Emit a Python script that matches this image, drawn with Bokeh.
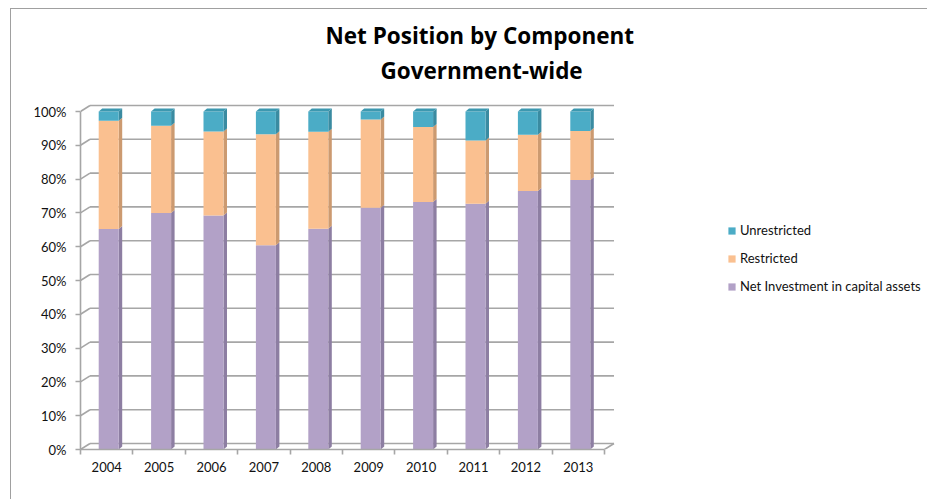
import numpy as np
from bokeh.plotting import figure
from bokeh.models import Range1d, FixedTicker, Title, Legend, LegendItem
from bokeh.embed import file_html
from bokeh.resources import INLINE

# ---------------- data ----------------
years = ["2004", "2005", "2006", "2007", "2008", "2009", "2010", "2011", "2012", "2013"]
net_investment = [65.2, 70.0, 69.2, 60.4, 65.3, 71.5, 73.2, 72.7, 76.5, 79.7]
restricted = [32.1, 25.8, 24.9, 32.9, 28.7, 26.1, 22.2, 18.7, 16.6, 14.5]
unrestricted = [2.7, 4.2, 5.9, 6.7, 6.0, 2.4, 4.6, 8.6, 6.9, 5.8]
series_labels = ["Net Investment in capital assets", "Restricted", "Unrestricted"]
y_ticks = [0, 10, 20, 30, 40, 50, 60, 70, 80, 90, 100]
y_tick_labels = ["0%", "10%", "20%", "30%", "40%", "50%", "60%", "70%", "80%", "90%", "100%"]
title_line1 = "Net Position by Component"
title_line2 = "Government-wide"

# ---------------- styling ----------------
front_colors = ["#B2A1C7", "#FAC090", "#4BACC6"]
side_colors = ["#8D7EA2", "#CC9A70", "#3A8BA1"]
cap_color = "#3C98B0"
grid_color = "#A6A6A6"
FONT = "Lato"
TITLE_FONT = "Open Sans"

W, H = 917, 491
MB_LEFT, MB_TOP, MB_RIGHT = 69, 94, 0
FRAME_H = 346
MB_BOTTOM = H - MB_TOP - FRAME_H
FRAME_W = W - MB_LEFT - MB_RIGHT

PX_X = 52.4      # pixels per category slot
PX_Y = 3.38      # pixels per percent
x_start = -0.5
x_end = x_start + FRAME_W / PX_X
y_end = FRAME_H / PX_Y

p = figure(width=W, height=H,
           x_range=Range1d(x_start, x_end), y_range=Range1d(0, y_end),
           output_backend="svg", toolbar_location=None,
           min_border_left=MB_LEFT, min_border_right=MB_RIGHT,
           min_border_top=MB_TOP, min_border_bottom=MB_BOTTOM,
           outline_line_color=None, background_fill_color="white", border_fill_color="white")
p.styles = {"border-top": "1px solid #A0A0A0", "border-left": "1px solid #A0A0A0",
            "margin-left": "10px", "margin-top": "8px"}
p.xgrid.visible = False
p.ygrid.visible = False

n = len(years)
xs = np.arange(n, dtype=float)

# 3D wall depth
dx = 9.5 / PX_X
dy = 6.0 / PX_Y

gy = np.array(y_ticks, dtype=float)
p.segment(x0=np.full(len(gy), x_start), y0=gy, x1=np.full(len(gy), x_start + dx), y1=gy + dy,
          line_color=grid_color, line_width=1.6)
p.segment(x0=np.full(len(gy), x_start + dx), y0=gy + dy, x1=np.full(len(gy), n - 0.5 + dx), y1=gy + dy,
          line_color=grid_color, line_width=1.6)
p.segment(x0=[n - 0.5], y0=[0], x1=[n - 0.5 + dx], y1=[dy], line_color=grid_color, line_width=1.6)

# bars
bw = 20.0 / PX_X
boff = 2.0 / PX_X
sw = 3.5 / PX_X
sdy = 3.0 / PX_Y

series = [net_investment, restricted, unrestricted]
bottom = np.zeros(n)
renderers = []
for vals, fc, sc in zip(series, front_colors, side_colors):
    v = np.array(vals, dtype=float)
    top = bottom + v
    xr = xs + boff + bw / 2
    side_x = [[a, a + sw, a + sw, a] for a in xr]
    side_y = [[b, b + sdy, t + sdy, t] for b, t in zip(bottom, top)]
    p.patches(xs=side_x, ys=side_y, fill_color=sc, line_color=None)
    r = p.vbar(x=xs + boff, bottom=bottom, top=top, width=bw, fill_color=fc, line_color=None)
    renderers.append(r)
    bottom = top

xl = xs + boff - bw / 2
cap_x = [[a, a + bw, a + bw + sw, a + sw] for a in xl]
cap_y = [[t, t, t + sdy, t + sdy] for t in bottom]
p.patches(xs=cap_x, ys=cap_y, fill_color=cap_color, line_color=None)

# axes
p.yaxis.ticker = FixedTicker(ticks=y_ticks, minor_ticks=[])
p.yaxis.major_label_overrides = {t: l for t, l in zip(y_ticks, y_tick_labels)}
p.yaxis.bounds = (0, 100)
p.yaxis.axis_line_color = grid_color
p.yaxis.axis_line_width = 1.6
p.yaxis.major_tick_line_color = grid_color
p.yaxis.major_tick_line_width = 1.6
p.yaxis.major_tick_out = 5
p.yaxis.major_tick_in = 0
p.yaxis.major_label_standoff = 9
p.yaxis.major_label_text_font = FONT
p.yaxis.major_label_text_font_size = "13px"
p.yaxis.major_label_text_color = "#111111"

p.xaxis.ticker = FixedTicker(ticks=list(xs), minor_ticks=list(np.arange(n + 1) - 0.5))
p.xaxis.major_label_overrides = {i: y for i, y in enumerate(years)}
p.xaxis.bounds = (-0.5, n - 0.5)
p.xaxis.axis_line_color = grid_color
p.xaxis.axis_line_width = 1.6
p.xaxis.major_tick_line_color = None
p.xaxis.major_tick_out = 0
p.xaxis.major_tick_in = 0
p.xaxis.minor_tick_line_color = grid_color
p.xaxis.minor_tick_line_width = 1.6
p.xaxis.minor_tick_out = 5
p.xaxis.minor_tick_in = 0
p.xaxis.major_label_standoff = 7
p.xaxis.major_label_text_font = FONT
p.xaxis.major_label_text_font_size = "13px"
p.xaxis.major_label_text_color = "#111111"

# titles (closest to frame first)
t2 = Title(text=title_line2, align="left", offset=300, text_font=TITLE_FONT, text_font_size="22.5px",
           text_font_style="bold", text_color="black", standoff=35)
t1 = Title(text=title_line1, align="left", offset=245, text_font=TITLE_FONT, text_font_size="22.5px",
           text_font_style="bold", text_color="black", standoff=-31)
p.add_layout(t2, "above")
p.add_layout(t1, "above")

# legend
items = [LegendItem(label=series_labels[2], renderers=[renderers[2]]),
         LegendItem(label=series_labels[1], renderers=[renderers[1]]),
         LegendItem(label=series_labels[0], renderers=[renderers[0]])]
legend = Legend(items=items, location=(647, 153), border_line_color=None,
                background_fill_alpha=0, padding=0, margin=0,
                glyph_width=9, glyph_height=9, label_height=20, spacing=8,
                label_standoff=4, label_text_font=FONT, label_text_font_size="13px",
                label_text_color="#111111")
p.add_layout(legend)

open("out.html", "w").write(file_html(p, INLINE))
